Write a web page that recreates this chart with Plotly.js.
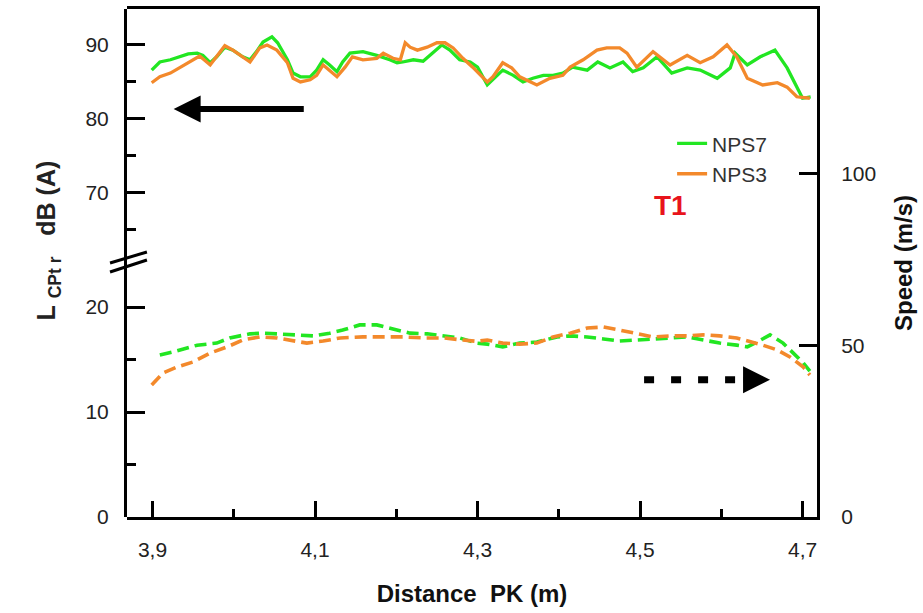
<!DOCTYPE html>
<html><head><meta charset="utf-8">
<script src="https://cdn.plot.ly/plotly-3.0.1.min.js"></script>
<style>html,body{margin:0;padding:0;background:#fff}#chart{width:923px;height:613px}</style>
</head><body><div id="chart"></div>
<script>
// Noise level L_CPtr (dB(A)) vs distance, solid lines (left, upper broken axis)
const distLevelNPS7 = [3.899,3.909,3.922,3.934,3.944,3.955,3.962,3.971,3.979,3.989,3.999,4.011,4.020,4.028,4.036,4.047,4.054,4.066,4.073,4.082,4.094,4.102,4.110,4.118,4.127,4.134,4.143,4.159,4.176,4.192,4.201,4.208,4.221,4.233,4.245,4.256,4.266,4.278,4.291,4.300,4.312,4.319,4.331,4.344,4.356,4.368,4.381,4.393,4.405,4.417,4.435,4.448,4.463,4.479,4.491,4.504,4.521,4.539,4.558,4.574,4.595,4.611,4.617,4.632,4.648,4.666,4.681,4.700,4.710];
const levelNPS7 = [86.6,87.7,88.0,88.4,88.8,88.9,88.6,87.6,88.4,89.7,89.3,88.4,88.0,89.1,90.4,91.1,90.3,88.0,86.2,85.7,85.7,86.6,88.0,87.3,86.4,87.7,88.9,89.1,88.6,88.0,87.6,87.7,88.0,87.8,88.9,90.0,89.3,88.0,87.7,87.0,84.6,85.3,86.6,85.9,85.0,85.5,85.9,85.9,86.2,87.0,86.6,87.7,86.9,87.7,86.4,86.9,88.4,86.2,86.9,86.6,85.5,86.9,88.9,87.3,88.4,89.3,86.9,82.8,83.0];
const distLevelNPS3 = [3.899,3.909,3.922,3.934,3.946,3.958,3.971,3.979,3.989,3.999,4.011,4.020,4.032,4.041,4.053,4.066,4.073,4.082,4.094,4.102,4.110,4.118,4.127,4.137,4.146,4.159,4.176,4.184,4.196,4.205,4.211,4.217,4.226,4.238,4.250,4.260,4.270,4.282,4.294,4.312,4.319,4.331,4.342,4.352,4.365,4.373,4.389,4.405,4.414,4.430,4.447,4.459,4.475,4.484,4.496,4.516,4.537,4.558,4.574,4.590,4.607,4.619,4.632,4.651,4.669,4.681,4.693,4.709];
const levelNPS3 = [84.9,85.7,86.2,87.0,87.7,88.5,87.3,88.4,89.9,89.3,88.4,87.7,89.6,90.0,89.3,87.6,85.5,85.0,85.3,85.9,87.3,86.6,85.7,87.0,88.4,88.0,88.2,88.9,88.2,88.0,90.3,89.7,89.3,89.7,90.3,90.3,89.6,88.2,87.0,85.0,85.7,87.6,86.9,85.7,85.0,84.6,85.5,85.9,87.0,88.0,89.3,89.6,89.6,88.9,87.0,89.1,87.3,88.6,87.6,88.4,90.0,88.4,85.5,84.6,84.9,84.3,83.0,82.8];

// Speed (m/s) vs distance, dashed lines (right axis)
const distSpeedNPS7 = [3.909,3.925,3.955,3.979,3.995,4.020,4.036,4.057,4.078,4.098,4.118,4.134,4.155,4.176,4.196,4.217,4.238,4.258,4.278,4.299,4.312,4.331,4.352,4.373,4.398,4.414,4.435,4.455,4.475,4.496,4.516,4.537,4.558,4.578,4.598,4.619,4.632,4.644,4.660,4.676,4.688,4.701,4.709];
const speedNPS7 = [47.2,48.1,50.1,50.7,52.2,53.4,53.6,53.4,53.1,52.8,53.6,54.5,56.0,56.0,54.8,53.6,53.4,52.8,52.2,50.7,50.4,49.6,50.7,51.0,52.5,52.8,52.5,51.9,51.3,51.6,51.9,52.2,52.5,51.6,50.7,50.1,49.6,51.0,53.1,50.7,47.8,44.9,42.5];
const distSpeedNPS3 = [3.899,3.913,3.930,3.950,3.971,3.992,4.011,4.032,4.053,4.073,4.090,4.110,4.131,4.159,4.184,4.208,4.233,4.258,4.282,4.299,4.312,4.331,4.352,4.373,4.393,4.414,4.435,4.455,4.475,4.496,4.516,4.537,4.558,4.578,4.598,4.619,4.639,4.651,4.669,4.685,4.701,4.709];
const speedNPS3 = [38.5,42.0,43.7,45.2,47.8,49.6,51.6,52.5,52.2,51.3,50.7,51.3,52.2,52.5,52.5,52.5,52.2,52.2,51.6,51.2,51.6,50.7,50.4,50.7,52.5,53.6,55.1,55.4,54.5,53.6,52.5,52.8,52.8,53.1,52.8,52.2,51.0,50.1,48.7,46.6,43.7,41.4];

const seriesNames = ['NPS7', 'NPS3'];
const levelTicksUpper = [70, 80, 90];
const levelTicksLower = [0, 10, 20];
const speedTicks = [0, 50, 100];

const GREEN = '#22e622';
const ORANGE = '#f3892b';

const traces = [
  {x: distLevelNPS7, y: levelNPS7, xaxis: 'x', yaxis: 'y3', mode: 'lines', name: seriesNames[0],
   line: {color: GREEN, width: 3.3}},
  {x: distLevelNPS3, y: levelNPS3, xaxis: 'x', yaxis: 'y3', mode: 'lines', name: seriesNames[1],
   line: {color: ORANGE, width: 3.3}},
  {x: distSpeedNPS7, y: speedNPS7, xaxis: 'x', yaxis: 'y2', mode: 'lines', name: seriesNames[0] + ' speed',
   showlegend: false, line: {color: GREEN, width: 3.6, dash: '12px,6px'}},
  {x: distSpeedNPS3, y: speedNPS3, xaxis: 'x', yaxis: 'y2', mode: 'lines', name: seriesNames[1] + ' speed',
   showlegend: false, line: {color: ORANGE, width: 3.6, dash: '12px,6px'}},
  {x: [], y: [], xaxis: 'x', yaxis: 'y', mode: 'lines', showlegend: false, hoverinfo: 'skip'}
];

const axisCommon = {
  showline: true, linewidth: 3, linecolor: '#000', showgrid: false, zeroline: false,
  ticks: 'inside', tickwidth: 3, tickcolor: '#000', ticklen: 18,
  tickfont: {size: 21, color: '#222'}
};

const layout = {
  width: 923, height: 613,
  margin: {l: 127, r: 106, t: 9, b: 96, pad: 0},
  paper_bgcolor: '#fff', plot_bgcolor: 'rgba(0,0,0,0)',
  separators: ', ',
  font: {family: 'Liberation Sans, Arial, sans-serif', size: 21, color: '#222'},
  showlegend: true,
  legend: {x: 0.79, xanchor: 'left', y: 0.775, yanchor: 'top', bgcolor: 'rgba(0,0,0,0)',
           font: {size: 21, color: '#333'}, tracegroupgap: 0},
  xaxis: Object.assign({}, axisCommon, {
    range: [3.8686, 4.7178], anchor: 'y2', mirror: true,
    ticklen: 16, tick0: 3.9, dtick: 0.2, tickformat: '.1f', ticklabelstandoff: 12,
    minor: {ticks: 'inside', ticklen: 8, tickwidth: 3, tickcolor: '#000', tick0: 3.9, dtick: 0.1},
    title: {text: '<b>Distance  PK (m)</b>', font: {size: 24, color: '#111'}, standoff: 25}
  }),
  yaxis: Object.assign({}, axisCommon, {
    domain: [0, 0.5], range: [0, 24.19], anchor: 'x', side: 'left',
    tickvals: levelTicksLower, ticklabelstandoff: 11,
    minor: {ticks: 'inside', ticklen: 9, tickwidth: 3, tickcolor: '#000', tickvals: [5, 15]}
  }),
  yaxis3: Object.assign({}, axisCommon, {
    domain: [0.5, 1], range: [60.54, 94.86], anchor: 'x', side: 'left',
    tickvals: levelTicksUpper, ticklabelstandoff: 11,
    minor: {ticks: 'inside', ticklen: 9, tickwidth: 3, tickcolor: '#000', tickvals: [65, 75, 85]}
  }),
  yaxis2: Object.assign({}, axisCommon, {
    domain: [0, 1], range: [0, 148.1], anchor: 'x', side: 'right',
    tickvals: speedTicks, ticklabelstandoff: 17,
    title: {text: '<b>Speed (m/s)</b>', font: {size: 24, color: '#111'}, standoff: 20}
  }),
  shapes: [
    {type: 'line', xref: 'paper', yref: 'paper', x0: -0.0246, x1: 0.0289, y0: 0.5, y1: 0.5217,
     line: {color: '#000', width: 3}},
    {type: 'line', xref: 'paper', yref: 'paper', x0: -0.0246, x1: 0.0289, y0: 0.4823, y1: 0.5059,
     line: {color: '#000', width: 3}},
    {type: 'line', xref: 'x', yref: 'y2', x0: 4.505, x1: 4.64, y0: 40, y1: 40,
     line: {color: '#000', width: 7, dash: '10px,17px'}}
  ],
  annotations: [
    {xref: 'paper', yref: 'paper', x: -0.14, y: 0.545, textangle: -90, showarrow: false,
     text: '<b>L&nbsp;<sub>CPt r</sub>&nbsp;&nbsp;&nbsp;dB (A)</b>', font: {size: 25, color: '#222'}},
    {xref: 'paper', yref: 'paper', x: 0.815, y: 0.614, showarrow: false,
     text: '<b>T1</b>', font: {size: 28, color: '#e8141c'}},
    {xref: 'x', yref: 'y3', x: 3.926, y: 81.35, axref: 'x', ayref: 'y3', ax: 4.088, ay: 81.35,
     showarrow: true, arrowhead: 2, arrowsize: 0.9, arrowwidth: 6, arrowcolor: '#000', text: ''},
    {xref: 'x', yref: 'y2', x: 4.66, y: 40, axref: 'x', ayref: 'y2', ax: 4.64, ay: 40,
     showarrow: true, arrowhead: 2, arrowsize: 0.9, arrowwidth: 6, arrowcolor: '#000', text: ''}
  ]
};

Plotly.newPlot('chart', traces, layout, {displayModeBar: false, staticPlot: true});
</script>
</body></html>
